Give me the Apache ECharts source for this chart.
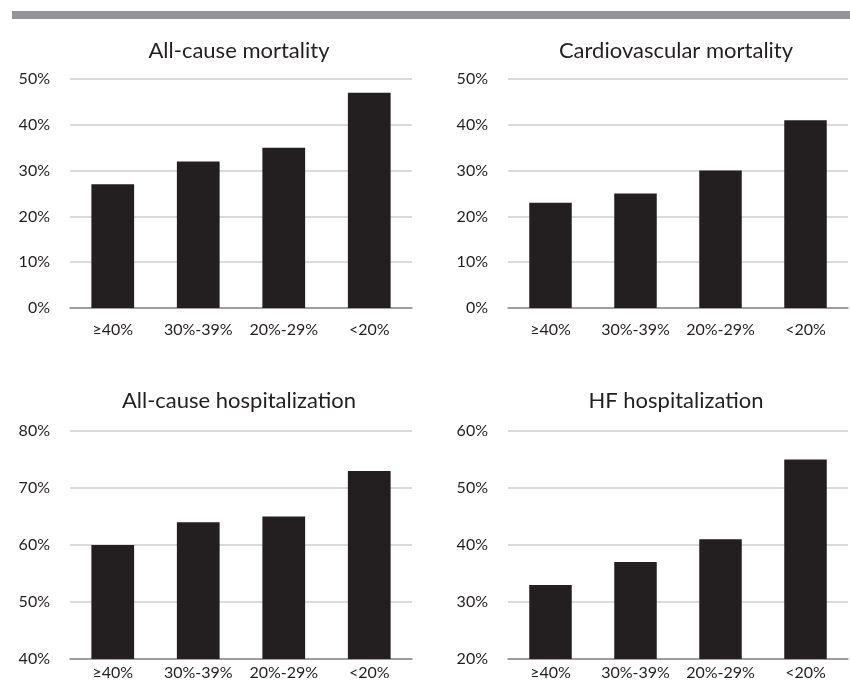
<!DOCTYPE html>
<html>
<head>
<meta charset="utf-8">
<script src="https://cdn.jsdelivr.net/npm/echarts@6/dist/echarts.min.js"></script>
<style>
html,body{margin:0;padding:0;background:#fff;}
#chart{width:850px;height:698px;}
</style>
</head>
<body>
<div id="chart"></div>
<script>
// Data
const categories = ['\u226540%', '30%-39%', '20%-29%', '<20%'];
const titles = ['All-cause mortality', 'Cardiovascular mortality', 'All-cause hospitalization', 'HF hospitalization'];
const allCauseMortality = [27, 32, 35, 47];
const cvMortality = [23, 25, 30, 41];
const allCauseHosp = [60, 64, 65, 73];
const hfHosp = [33, 37, 41, 55];
const yRanges = [[0, 50, 10], [0, 50, 10], [40, 80, 10], [20, 60, 10]];

const seriesData = [allCauseMortality, cvMortality, allCauseHosp, hfHosp];

const FONT = 'Lato';
const textColor = '#231f20';
const barColor = '#231f20';

const grids = [
  {left: 70, width: 342, top: 79, height: 229},
  {left: 508, width: 340, top: 79, height: 229},
  {left: 70, width: 342, top: 431, height: 228},
  {left: 508, width: 340, top: 431, height: 228}
];
const titlePos = [
  {x: 234, y: 46}, {x: 671, y: 46}, {x: 234, y: 396}, {x: 671, y: 396}
];
const xLabelMargins = [14, 14, 6, 6];

const option = {
  animation: false,
  backgroundColor: '#fff',
  graphic: [{
    type: 'rect', shape: {x: 12, y: 11, width: 838, height: 8},
    style: {fill: '#939598'}
  }],
  title: titles.map((t, i) => ({
    text: t,
    left: titlePos[i].x, top: titlePos[i].y,
    textAlign: 'center', textVerticalAlign: 'middle',
    textStyle: {fontFamily: FONT, fontSize: 22, fontWeight: 'normal', color: textColor}
  })),
  grid: grids,
  xAxis: grids.map((g, i) => ({
    type: 'category', gridIndex: i, data: categories,
    axisLine: {show: true, lineStyle: {color: '#8a8a8a', width: 1.5}},
    axisTick: {show: false},
    axisLabel: {fontFamily: FONT, fontSize: 16, color: textColor, margin: xLabelMargins[i], interval: 0}
  })),
  yAxis: grids.map((g, i) => ({
    type: 'value', gridIndex: i,
    min: yRanges[i][0], max: yRanges[i][1], interval: yRanges[i][2],
    axisLine: {show: false}, axisTick: {show: false},
    splitLine: {lineStyle: {color: '#cfcfcf', width: 1.5}},
    axisLabel: {fontFamily: FONT, fontSize: 16, color: textColor, margin: 20, formatter: '{value}%'}
  })),
  series: seriesData.map((d, i) => ({
    type: 'bar', xAxisIndex: i, yAxisIndex: i, data: d,
    barCategoryGap: '50%',
    itemStyle: {color: barColor}
  }))
};

const chart = echarts.init(document.getElementById('chart'), null, {renderer: 'canvas'});
chart.setOption(option);
</script>
</body>
</html>
